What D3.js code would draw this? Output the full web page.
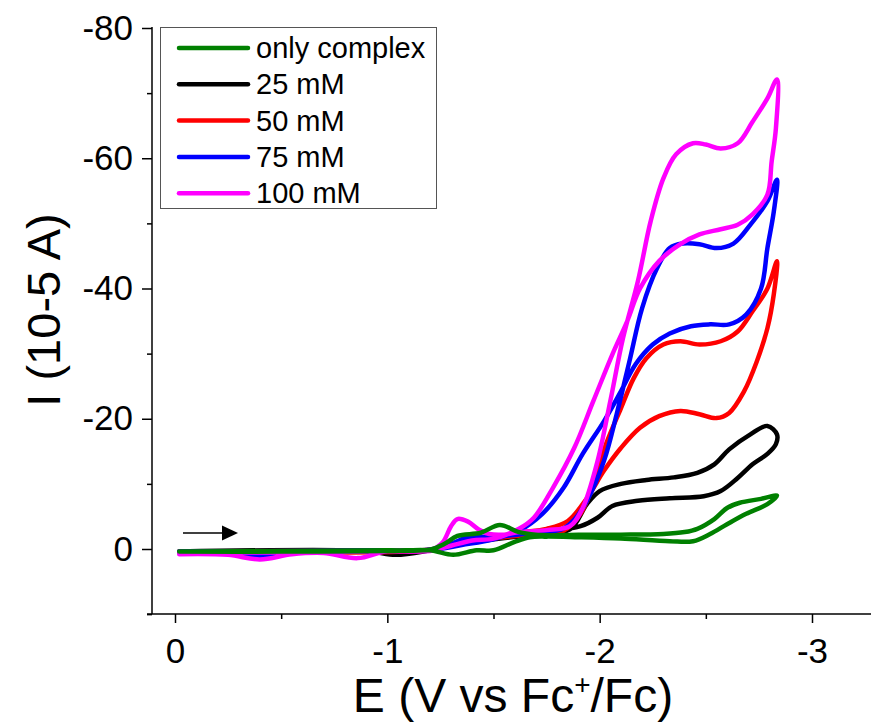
<!DOCTYPE html>
<html>
<head>
<meta charset="utf-8">
<script src="https://cdn.jsdelivr.net/npm/d3@7"></script>
<style>
  html, body { margin: 0; padding: 0; background: #fff; }
  svg { display: block; font-family: "Liberation Sans", Arial, sans-serif; }
</style>
</head>
<body>
<svg id="chart" width="871" height="726"></svg>
<script>
// Cyclic voltammograms: [E (V vs Fc+/Fc), I (10^-5 A)], forward scan then reverse scan.
const complexOnly = [
  [-0.02, 0.4], [-0.5, 0.3], [-1.0, 0.2], [-1.2, 0.1], [-1.27, -0.8], [-1.33, -2.0],
  [-1.44, -2.5], [-1.53, -3.7], [-1.62, -2.6], [-1.75, -2.1], [-1.9, -2.2], [-2.1, -2.2],
  [-2.3, -2.3], [-2.4, -2.6], [-2.46, -3.1], [-2.54, -4.6], [-2.6, -6.3], [-2.66, -7.1],
  [-2.76, -7.7], [-2.835, -8.2],
  [-2.79, -6.9], [-2.69, -5.4], [-2.6, -3.8], [-2.52, -2.3], [-2.44, -1.2], [-2.33, -1.2],
  [-2.1, -1.6], [-1.9, -1.8], [-1.75, -1.9], [-1.67, -1.8], [-1.6, -1.1], [-1.5, 0.2],
  [-1.42, 0.2], [-1.31, 0.9], [-1.2, 0.2], [-1.0, 0.3], [-0.5, 0.4], [-0.02, 0.4]
];
const conc25 = [
  [-0.02, 0.4], [-1.0, 0.3], [-1.2, 0.1], [-1.35, -0.8], [-1.5, -1.5], [-1.7, -2.2],
  [-1.86, -3.0], [-1.94, -6.9], [-2.0, -8.9], [-2.1, -10.0], [-2.22, -10.6], [-2.35, -11.0],
  [-2.46, -11.7], [-2.54, -13.0], [-2.61, -15.3], [-2.71, -17.6], [-2.79, -18.9], [-2.835, -17.6],
  [-2.83, -16.1], [-2.79, -14.6], [-2.72, -13.0], [-2.65, -10.9], [-2.57, -8.9], [-2.49, -8.1],
  [-2.33, -7.8], [-2.18, -7.4], [-2.06, -6.6], [-1.99, -4.8], [-1.91, -3.5], [-1.78, -2.8],
  [-1.6, -2.2], [-1.4, -1.2], [-1.2, 0.2], [-1.04, 0.9], [-0.9, 0.3], [-0.02, 0.4]
];
const conc50 = [
  [-0.02, 0.4], [-1.0, 0.2], [-1.2, 0.1], [-1.3, -0.6], [-1.4, -1.2], [-1.55, -1.8],
  [-1.7, -2.3], [-1.83, -2.8], [-1.91, -5.4], [-1.97, -10.0], [-2.03, -16.1], [-2.1, -21.6],
  [-2.16, -26.2], [-2.22, -29.3], [-2.3, -31.4], [-2.38, -31.9], [-2.47, -31.4], [-2.57, -31.9],
  [-2.65, -33.4], [-2.72, -36.5], [-2.79, -40.0], [-2.835, -44.2],
  [-2.82, -39.1], [-2.79, -33.9], [-2.74, -28.8], [-2.68, -24.2], [-2.61, -20.9], [-2.55, -20.1],
  [-2.47, -20.7], [-2.38, -21.2], [-2.28, -20.4], [-2.19, -18.6], [-2.1, -15.5], [-2.02, -12.0],
  [-1.94, -7.8], [-1.85, -4.3], [-1.75, -3.1], [-1.62, -2.5], [-1.45, -1.5], [-1.3, -0.5],
  [-1.2, 0.2], [-0.02, 0.4]
];
const conc75 = [
  [-0.02, 0.4], [-1.0, 0.2], [-1.2, 0.1], [-1.3, -0.8], [-1.38, -1.8], [-1.45, -1.9],
  [-1.55, -2.0], [-1.7, -2.6], [-1.82, -3.0], [-1.88, -4.5], [-1.94, -7.4], [-2.02, -13.5],
  [-2.08, -20.7], [-2.14, -28.8], [-2.2, -37.0], [-2.27, -43.1], [-2.33, -46.2], [-2.39, -46.9],
  [-2.47, -46.8], [-2.55, -46.2], [-2.63, -46.9], [-2.71, -49.8], [-2.79, -53.4], [-2.835, -56.7],
  [-2.82, -51.8], [-2.79, -46.2], [-2.76, -40.0], [-2.69, -36.0], [-2.61, -34.5], [-2.52, -34.5],
  [-2.43, -34.2], [-2.33, -33.1], [-2.25, -31.4], [-2.17, -28.4], [-2.1, -24.2], [-2.02, -19.6],
  [-1.92, -14.6], [-1.83, -9.4], [-1.73, -5.4], [-1.62, -2.8], [-1.5, -1.5], [-1.35, -0.6],
  [-1.2, 0.2], [-1.0, 0.3], [-0.6, 0.5], [-0.4, 1.1], [-0.2, 0.5], [-0.02, 0.5]
];
const conc100 = [
  [-0.02, 0.6], [-0.5, 0.5], [-1.0, 0.3], [-1.2, 0.2], [-1.26, -1.0], [-1.3, -3.5],
  [-1.33, -4.6], [-1.38, -4.2], [-1.43, -3.0], [-1.48, -2.3], [-1.55, -2.2], [-1.62, -2.6],
  [-1.75, -2.9], [-1.86, -3.5], [-1.92, -6.3], [-1.99, -13.5], [-2.05, -22.7], [-2.11, -32.4],
  [-2.18, -41.1], [-2.24, -50.3], [-2.3, -56.9], [-2.36, -60.6], [-2.44, -62.3], [-2.5, -62.1],
  [-2.57, -61.5], [-2.65, -62.3], [-2.72, -65.6], [-2.79, -69.2], [-2.835, -72.1],
  [-2.83, -64.6], [-2.81, -59.5], [-2.79, -54.4], [-2.72, -51.4], [-2.65, -49.8], [-2.57, -49.1],
  [-2.47, -48.3], [-2.38, -46.8], [-2.28, -44.2], [-2.19, -40.0], [-2.13, -35.0], [-2.06, -29.9],
  [-1.97, -22.7], [-1.88, -15.5], [-1.78, -9.4], [-1.69, -4.8], [-1.62, -3.1], [-1.5, -1.6],
  [-1.4, -1.3], [-1.3, -0.5], [-1.2, 0.3], [-1.0, 0.3], [-0.86, 1.4], [-0.7, 0.6],
  [-0.55, 0.8], [-0.4, 1.6], [-0.25, 0.9], [-0.02, 0.8]
];

const seriesNames = ["only complex", "25 mM", "50 mM", "75 mM", "100 mM"];
const seriesColors = ["#008000", "#000000", "#ff0000", "#0000ff", "#ff00ff"];
const seriesData = [complexOnly, conc25, conc50, conc75, conc100];
// drawing order: green sits on top of the baseline
const drawOrder = [1, 2, 3, 4, 0];

const xMajorTicks = [0, -1, -2, -3];
const xMinorTicks = [-0.5, -1.5, -2.5];
const yMajorTicks = [-80, -60, -40, -20, 0];
const yMinorTicks = [-70, -50, -30, -10, 10];

const svg = d3.select("#chart");

const x = d3.scaleLinear().domain([0, -3]).range([175, 812]);
const y = d3.scaleLinear().domain([0, -80]).range([549, 28]);

const axisY0 = 614;   // pixel row of the x axis
const axisX0 = 152;   // pixel column of the y axis

// x axis
const gx = svg.append("g").attr("transform", `translate(0,${axisY0})`);
gx.call(d3.axisBottom(x).tickValues(xMajorTicks).tickSize(9).tickPadding(15)
  .tickFormat(d => String(d)));
gx.append("g").call(d3.axisBottom(x).tickValues(xMinorTicks).tickSize(5).tickFormat(""));
gx.selectAll(".domain").remove();
gx.selectAll("line").attr("stroke", "#000").attr("stroke-width", 1.5);
gx.selectAll("text").attr("font-size", 35).attr("fill", "#000")
  .attr("font-family", "Liberation Sans, Arial, sans-serif");
svg.append("line").attr("x1", axisX0 - 5).attr("x2", 871)
  .attr("y1", axisY0).attr("y2", axisY0).attr("stroke", "#000").attr("stroke-width", 1.5);

// y axis
const gy = svg.append("g").attr("transform", `translate(${axisX0},0)`);
gy.call(d3.axisLeft(y).tickValues(yMajorTicks).tickSize(10).tickPadding(9)
  .tickFormat(d => String(d)));
gy.append("g").call(d3.axisLeft(y).tickValues(yMinorTicks).tickSize(5).tickFormat(""));
gy.selectAll(".domain").remove();
gy.selectAll("line").attr("stroke", "#000").attr("stroke-width", 1.5);
gy.selectAll("text").attr("font-size", 35).attr("fill", "#000")
  .attr("font-family", "Liberation Sans, Arial, sans-serif");
svg.append("line").attr("x1", axisX0).attr("x2", axisX0)
  .attr("y1", 27).attr("y2", axisY0).attr("stroke", "#000").attr("stroke-width", 1.5);

// axis titles
svg.append("text").attr("x", 513).attr("y", 712).attr("text-anchor", "middle")
  .attr("font-size", 48).attr("fill", "#000")
  .call(t => {
    t.append("tspan").text("E (V vs Fc");
    t.append("tspan").attr("font-size", 28).attr("dy", -18).text("+");
    t.append("tspan").attr("dy", 18).text("/Fc)");
  });
svg.append("text").attr("transform", "translate(60,310) rotate(-90)")
  .attr("text-anchor", "middle").attr("font-size", 47).attr("fill", "#000")
  .text("I (10-5 A)");

// curves
const line = d3.line().x(d => x(d[0])).y(d => y(d[1])).curve(d3.curveCatmullRom.alpha(0.5));
svg.append("g").selectAll("path").data(drawOrder).join("path")
  .attr("d", i => line(seriesData[i]))
  .attr("fill", "none")
  .attr("stroke", i => seriesColors[i])
  .attr("stroke-width", 4.5)
  .attr("stroke-linejoin", "round")
  .attr("stroke-linecap", "round");

// scan direction arrow
const arrowY = 533;
svg.append("line").attr("x1", 183).attr("x2", 224).attr("y1", arrowY).attr("y2", arrowY)
  .attr("stroke", "#000").attr("stroke-width", 1.5);
svg.append("path").attr("d", `M222,${arrowY - 7.5} L238,${arrowY} L222,${arrowY + 7.5} Z`)
  .attr("fill", "#000");

// legend
const legend = svg.append("g");
legend.append("rect").attr("x", 160.5).attr("y", 27.5).attr("width", 276).attr("height", 181)
  .attr("fill", "#fff").attr("stroke", "#555").attr("stroke-width", 1);
const legendRows = legend.selectAll("g.row").data(seriesNames).join("g").attr("class", "row")
  .attr("transform", (d, i) => `translate(0,${48 + i * 36.3})`);
legendRows.append("line").attr("x1", 179).attr("x2", 248).attr("y1", 0).attr("y2", 0)
  .attr("stroke", (d, i) => seriesColors[i]).attr("stroke-width", 4.5).attr("stroke-linecap", "round");
legendRows.append("text").attr("x", 256).attr("y", 10).attr("font-size", 29).attr("fill", "#000")
  .text(d => d);
</script>
</body>
</html>
